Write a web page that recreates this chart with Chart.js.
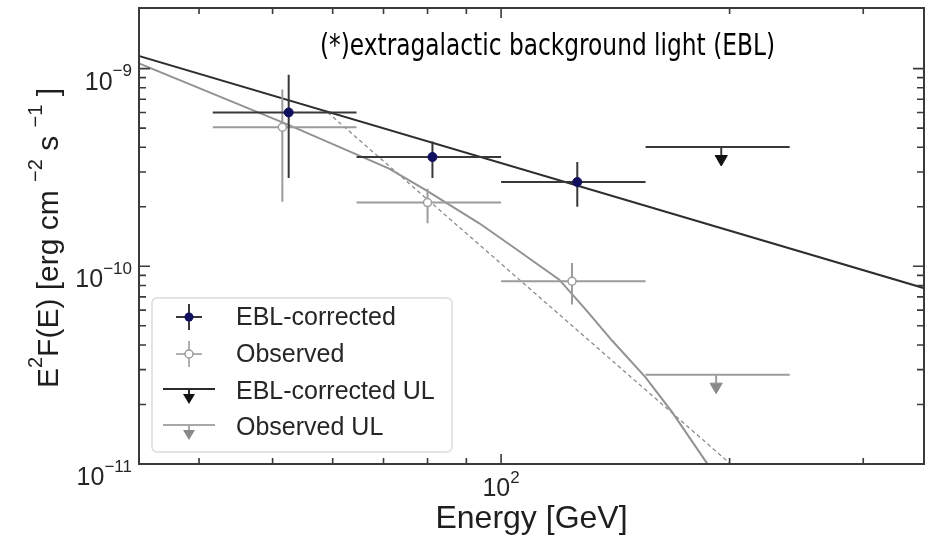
<!DOCTYPE html>
<html>
<head>
<meta charset="utf-8">
<title>EBL-corrected spectrum</title>
<script src="https://cdn.jsdelivr.net/npm/chart.js@4.4.1/dist/chart.umd.min.js"></script>
<style>
  html, body { margin: 0; padding: 0; background: #fff; }
  #wrap { width: 932px; height: 540px; }
</style>
</head>
<body>
<div id="wrap"><canvas id="sed" width="932" height="540"></canvas></div>
<script>
// Energy bins [GeV]
const binLow = [41.7, 64.5, 100];
const binHigh = [64.5, 100, 155];

// EBL-corrected fluxes, E^2 F(E) [erg cm^-2 s^-1]
const eblEnergy = [52.5, 81.2, 126];
const eblFlux = [6.0e-10, 3.57e-10, 2.67e-10];
const eblFluxLow = [2.8e-10, 2.8e-10, 2.0e-10];
const eblFluxHigh = [9.3e-10, 4.28e-10, 3.37e-10];

// Observed fluxes
const obsEnergy = [51.5, 80.0, 124];
const obsFlux = [5.05e-10, 2.10e-10, 8.4e-11];
const obsFluxLow = [2.12e-10, 1.65e-10, 6.4e-11];
const obsFluxHigh = [7.84e-10, 2.47e-10, 1.04e-10];

// Upper limits in the last bin
const ulBin = [155, 240];
const eblULEnergy = 195;
const eblUL = 4.01e-10;
const obsULEnergy = 192;
const obsUL = 2.83e-11;

// Model curves
const pwlEnergy = [33.3, 361];
const pwlFlux = [1.16e-9, 7.75e-11];
const absEnergy = [33.4, 52.1, 71.2, 79.6, 93.6, 103.5, 119.2, 129.2, 140.1, 154.9, 168.0, 186.7, 191.1];
const absFlux = [1.06e-9, 5.25e-10, 3.12e-10, 2.43e-10, 1.65e-10, 1.26e-10, 8.58e-11, 6.06e-11, 4.20e-11, 2.75e-11, 1.83e-11, 1.01e-11, 8.7e-12];
const dashEnergy = [59.1, 205];
const dashFlux = [6.0e-10, 9.3e-12];

// Axis ticks
const xMajor = [100];
const xMajorExp = ['2'];
const xMinor = [40, 50, 60, 70, 80, 90, 200, 300];
const yMajor = [1e-11, 1e-10, 1e-9];
const yMajorExp = ['\u221211', '\u221210', '\u22129'];
const yMinor = [2e-11, 3e-11, 4e-11, 5e-11, 6e-11, 7e-11, 8e-11, 9e-11,
                2e-10, 3e-10, 4e-10, 5e-10, 6e-10, 7e-10, 8e-10, 9e-10];

const FONT = '"Liberation Sans", Arial, Helvetica, sans-serif';
const NAVY = '#10105e';
const DARK = '#383838';
const GREY = '#9c9c9c';

// arrow geometry for the upper limits (fraction of the limit value)
const STEM_END = 0.91;
const TIP_AT = 0.87;

const pairs = (xs, ys) => xs.map((x, i) => ({ x: x, y: ys[i] }));
const hBars = (lo, hi, ys) => lo.flatMap((l, i) => [{ x: l, y: ys[i] }, { x: hi[i], y: ys[i] }, { x: hi[i], y: null }]);
const vBars = (xs, lo, hi) => xs.flatMap((x, i) => [{ x: x, y: lo[i] }, { x: x, y: hi[i] }, { x: x, y: null }]);

const lineSet = (data, color, width, extra) => Object.assign({
    data: data,
    borderColor: color,
    borderWidth: width,
    pointRadius: 0,
    fill: false,
    tension: 0
}, extra || {});

const datasets = [
    // markers on top
    { data: pairs(eblEnergy, eblFlux), showLine: false, pointRadius: 4.5, pointBackgroundColor: NAVY, pointBorderColor: NAVY, pointBorderWidth: 1 },
    { data: pairs(obsEnergy, obsFlux), showLine: false, pointRadius: 4, pointBackgroundColor: '#fff', pointBorderColor: GREY, pointBorderWidth: 1.5 },
    { data: [{ x: eblULEnergy, y: eblUL * TIP_AT }], showLine: false, pointStyle: 'triangle', rotation: 180, pointRadius: 7, pointBackgroundColor: '#111', pointBorderColor: '#111', pointBorderWidth: 1 },
    { data: [{ x: obsULEnergy, y: obsUL * TIP_AT }], showLine: false, pointStyle: 'triangle', rotation: 180, pointRadius: 7, pointBackgroundColor: '#8a8a8a', pointBorderColor: '#8a8a8a', pointBorderWidth: 1 },

    // error bars and limits
    lineSet(hBars(binLow, binHigh, eblFlux), DARK, 2),
    lineSet(vBars(eblEnergy, eblFluxLow, eblFluxHigh), DARK, 2),
    lineSet(hBars(binLow, binHigh, obsFlux), GREY, 2),
    lineSet(vBars(obsEnergy, obsFluxLow, obsFluxHigh), GREY, 2),
    lineSet(hBars([ulBin[0]], [ulBin[1]], [eblUL]), DARK, 2),
    lineSet(vBars([eblULEnergy], [eblUL * STEM_END], [eblUL]), DARK, 2),
    lineSet(hBars([ulBin[0]], [ulBin[1]], [obsUL]), GREY, 2),
    lineSet(vBars([obsULEnergy], [obsUL * STEM_END], [obsUL]), GREY, 2),

    // models
    lineSet(pairs(pwlEnergy, pwlFlux), '#2e2e2e', 2),
    lineSet(pairs(absEnergy, absFlux), '#929292', 2),
    lineSet(pairs(dashEnergy, dashFlux), '#8c8c8c', 1.3, { borderDash: [4, 3] })
];

// draws text runs like [['10', false], ['-9', true]] with raised superscripts
function runsWidth(ctx, runs, size) {
    let w = 0;
    runs.forEach(([t, sup]) => {
        ctx.font = (sup ? Math.round(size * 0.68) : size) + 'px ' + FONT;
        w += ctx.measureText(t).width;
    });
    return w;
}
function drawRuns(ctx, runs, x, y, size, align) {
    const w = runsWidth(ctx, runs, size);
    let cx = align === 'right' ? x - w : align === 'center' ? x - w / 2 : x;
    ctx.textAlign = 'left';
    ctx.textBaseline = 'alphabetic';
    runs.forEach(([t, sup]) => {
        ctx.font = (sup ? Math.round(size * 0.68) : size) + 'px ' + FONT;
        ctx.fillText(t, cx, sup ? y - size * 0.54 : y);
        cx += ctx.measureText(t).width;
    });
}

const sedDecor = {
    id: 'sedDecor',
    afterDraw(chart) {
        const ctx = chart.ctx;
        const area = chart.chartArea;
        const xs = chart.scales.x;
        const ys = chart.scales.y;
        ctx.save();

        // frame
        ctx.strokeStyle = '#3a3a3a';
        ctx.lineWidth = 2;
        ctx.strokeRect(area.left, area.top, area.right - area.left, area.bottom - area.top);

        // inward ticks on all four sides
        ctx.lineWidth = 1.6;
        ctx.beginPath();
        const xTick = (v, len) => {
            const p = xs.getPixelForValue(v);
            if (p <= area.left || p >= area.right) return;
            ctx.moveTo(p, area.bottom); ctx.lineTo(p, area.bottom - len);
            ctx.moveTo(p, area.top); ctx.lineTo(p, area.top + len);
        };
        const yTick = (v, len) => {
            const p = ys.getPixelForValue(v);
            if (p < area.top || p > area.bottom) return;
            ctx.moveTo(area.left, p); ctx.lineTo(area.left + len, p);
            ctx.moveTo(area.right, p); ctx.lineTo(area.right - len, p);
        };
        xMinor.forEach(v => xTick(v, 6));
        xMajor.forEach(v => xTick(v, 10));
        yMinor.forEach(v => yTick(v, 7));
        yMajor.forEach(v => yTick(v, 11));
        ctx.stroke();

        // tick labels
        ctx.fillStyle = '#262626';
        yMajor.forEach((v, i) => {
            const p = ys.getPixelForValue(v);
            drawRuns(ctx, [['10', false], [yMajorExp[i], true]], 132, p + 21, 25, 'right');
        });
        xMajor.forEach((v, i) => {
            const p = xs.getPixelForValue(v);
            drawRuns(ctx, [['10', false], [xMajorExp[i], true]], p, 496, 25, 'center');
        });

        // axis titles
        ctx.fillStyle = '#1e1e1e';
        ctx.font = '32px ' + FONT;
        ctx.textAlign = 'center';
        ctx.fillText('Energy [GeV]', (area.left + area.right) / 2, 528);

        ctx.save();
        ctx.translate(58, (area.top + area.bottom) / 2 + 2);
        ctx.rotate(-Math.PI / 2);
        drawRuns(ctx, [['E', false], ['2', true], ['F(E) [erg cm ', false], ['\u22122', true],
                       [' s ', false], ['\u22121', true], [' ]', false]], 0, 0, 30, 'center');
        ctx.restore();

        // legend
        const lx = 152, ly = 298, lw = 300, lh = 154;
        ctx.fillStyle = 'rgba(255,255,255,0.9)';
        ctx.strokeStyle = '#dcdcdc';
        ctx.lineWidth = 1.5;
        ctx.beginPath();
        ctx.roundRect(lx, ly, lw, lh, 5);
        ctx.fill();
        ctx.stroke();

        const sx = 189;
        const rows = [317, 354, 391, 427];
        const cross = (y, color) => {
            ctx.strokeStyle = color;
            ctx.lineWidth = 2;
            ctx.beginPath();
            ctx.moveTo(sx - 13, y); ctx.lineTo(sx + 13, y);
            ctx.moveTo(sx, y - 13); ctx.lineTo(sx, y + 13);
            ctx.stroke();
        };
        const limit = (y, color, tipColor) => {
            ctx.strokeStyle = color;
            ctx.lineWidth = 2;
            ctx.beginPath();
            ctx.moveTo(sx - 26, y); ctx.lineTo(sx + 26, y);
            ctx.moveTo(sx, y); ctx.lineTo(sx, y + 6);
            ctx.stroke();
            ctx.fillStyle = tipColor;
            ctx.beginPath();
            ctx.moveTo(sx - 6, y + 5); ctx.lineTo(sx + 6, y + 5); ctx.lineTo(sx, y + 15);
            ctx.closePath();
            ctx.fill();
        };
        cross(rows[0], DARK);
        ctx.fillStyle = NAVY;
        ctx.beginPath(); ctx.arc(sx, rows[0], 4.5, 0, Math.PI * 2); ctx.fill();
        cross(rows[1], '#b0b0b0');
        ctx.fillStyle = '#fff';
        ctx.strokeStyle = GREY;
        ctx.lineWidth = 1.5;
        ctx.beginPath(); ctx.arc(sx, rows[1], 4, 0, Math.PI * 2); ctx.fill(); ctx.stroke();
        limit(rows[2] - 2, '#2a2a2a', '#111');
        limit(rows[3] - 2, '#a8a8a8', '#8a8a8a');

        ctx.fillStyle = '#262626';
        ctx.font = '25px ' + FONT;
        ctx.textAlign = 'left';
        ctx.textBaseline = 'middle';
        ['EBL-corrected', 'Observed', 'EBL-corrected UL', 'Observed UL'].forEach((t, i) => {
            ctx.fillText(t, 236, rows[i] + 1);
        });

        // note in the upper part of the plot
        const note = '(*)extragalactic background light (EBL)';
        ctx.font = '30px "Ubuntu Condensed", "DejaVu Sans Condensed", "DejaVu Sans", sans-serif';
        ctx.textBaseline = 'alphabetic';
        ctx.fillStyle = '#000';
        const nw = ctx.measureText(note).width;
        const squeeze = Math.min(1, 455 / nw);
        ctx.save();
        ctx.translate(320, 55);
        ctx.scale(squeeze, 1);
        ctx.fillText(note, 0, 0);
        ctx.restore();

        ctx.restore();
    }
};

new Chart(document.getElementById('sed'), {
    type: 'line',
    data: { datasets: datasets },
    options: {
        responsive: false,
        animation: false,
        layout: { padding: { left: 139, right: 6, top: 5, bottom: 76 } },
        scales: {
            x: { type: 'logarithmic', min: 33.34, max: 360.7, display: false },
            y: { type: 'logarithmic', min: 1e-11, max: 2.025e-9, display: false }
        },
        plugins: {
            legend: { display: false },
            tooltip: { enabled: false }
        }
    },
    plugins: [sedDecor]
});
</script>
</body>
</html>
